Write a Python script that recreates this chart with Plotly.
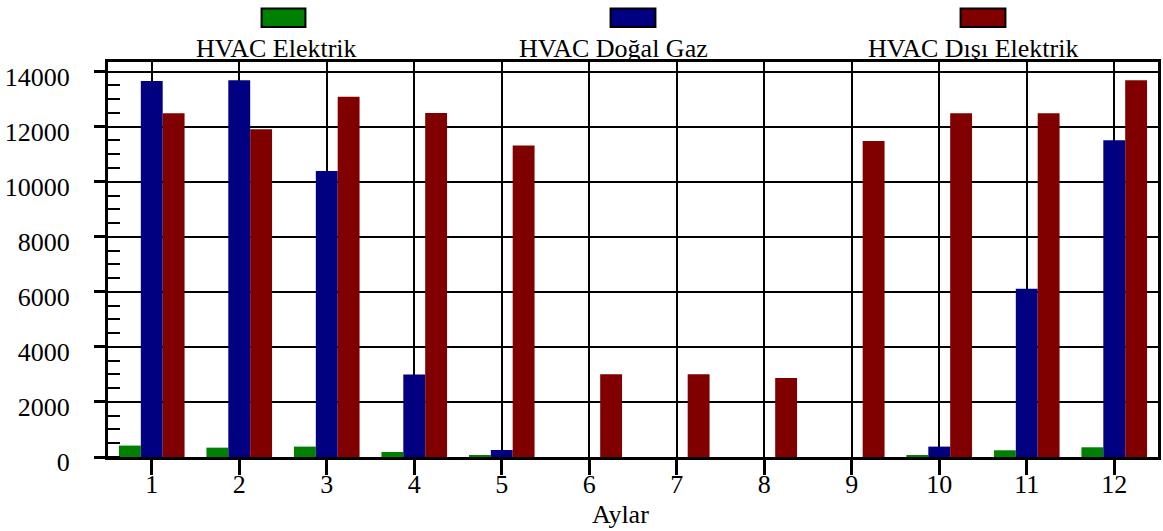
import plotly.graph_objects as go

# Monthly HVAC consumption values
months = [1, 2, 3, 4, 5, 6, 7, 8, 9, 10, 11, 12]
hvac_elektrik = [415, 340, 378, 182, 55, 0, 0, 0, 0, 73, 244, 353]
hvac_dogal_gaz = [13660, 13690, 10390, 3000, 255, 0, 0, 0, 0, 378, 6110, 11505]
hvac_disi_elektrik = [12490, 11905, 13090, 12500, 11320, 3007, 3007, 2873, 11480, 12490, 12490, 13690]

series_names = ["HVAC Elektrik", "HVAC Doğal Gaz", "HVAC Dışı Elektrik"]
series_colors = ["#008000", "#000080", "#800000"]
y_tick_values = [0, 2000, 4000, 6000, 8000, 10000, 12000, 14000]
y_tick_labels = [str(v) for v in y_tick_values]

W, H = 1163, 531
ML, MR, MT, MB = 108, 2, 62, 74
PW, PH = W - ML - MR, H - MT - MB
FONT = "Liberation Serif"
FS = 26


def px_x(x):
    return (x - ML) / PW


def px_y(y):
    return (H - MB - y) / PH


fig = go.Figure()
for name, vals, col in zip(series_names,
                           [hvac_elektrik, hvac_dogal_gaz, hvac_disi_elektrik],
                           series_colors):
    fig.add_trace(go.Bar(x=months, y=vals, name=name,
                         marker=dict(color=col, line=dict(width=0))))

# Legend drawn as swatch above each label
legend_boxes = [(262, 306), (612, 657), (963, 1008)]
legend_text_x = [277, 615, 975]
shapes = []
annotations = []
for (x0, x1), tx, name, col in zip(legend_boxes, legend_text_x, series_names, series_colors):
    shapes.append(dict(type="rect", xref="paper", yref="paper",
                       x0=px_x(x0), x1=px_x(x1), y0=px_y(27), y1=px_y(8.5),
                       fillcolor=col, line=dict(color="black", width=2)))
    annotations.append(dict(text=name, xref="paper", yref="paper",
                            x=px_x(tx), y=px_y(48), xanchor="center", yanchor="middle",
                            showarrow=False, font=dict(family=FONT, size=FS, color="black")))

annotations.append(dict(text="Aylar", xref="paper", yref="paper",
                        x=px_x(622), y=px_y(514), xanchor="center", yanchor="middle",
                        showarrow=False, font=dict(family=FONT, size=FS, color="black")))

fig.update_layout(
    width=W, height=H,
    margin=dict(l=ML, r=MR, t=MT, b=MB, pad=0),
    paper_bgcolor="white", plot_bgcolor="white",
    barmode="group", bargap=0.25, bargroupgap=0,
    showlegend=False,
    font=dict(family=FONT, size=FS, color="black"),
    shapes=shapes, annotations=annotations,
    xaxis=dict(range=[0.5, 12.5], tickvals=months, ticktext=[str(m) for m in months],
               ticks="outside", ticklen=15, tickwidth=3, tickcolor="black",
               showline=True, linecolor="black", linewidth=3, mirror=True,
               showgrid=True, gridcolor="black", gridwidth=2, zeroline=False,
               tickfont=dict(family=FONT, size=FS), ticklabelstandoff=-13),
    yaxis=dict(range=[0, 14350], tickvals=y_tick_values, ticktext=y_tick_labels,
               ticks="outside", ticklen=11, tickwidth=3, tickcolor="black",
               showline=True, linecolor="black", linewidth=3, mirror=True,
               showgrid=True, gridcolor="black", gridwidth=2, zeroline=False,
               tickfont=dict(family=FONT, size=FS), ticklabelstandoff=19,
               ticklabelshift=5,
               minor=dict(dtick=500, ticks="inside", ticklen=12, tickwidth=2,
                          tickcolor="black", showgrid=False)),
)

fig.write_html("out.html")
